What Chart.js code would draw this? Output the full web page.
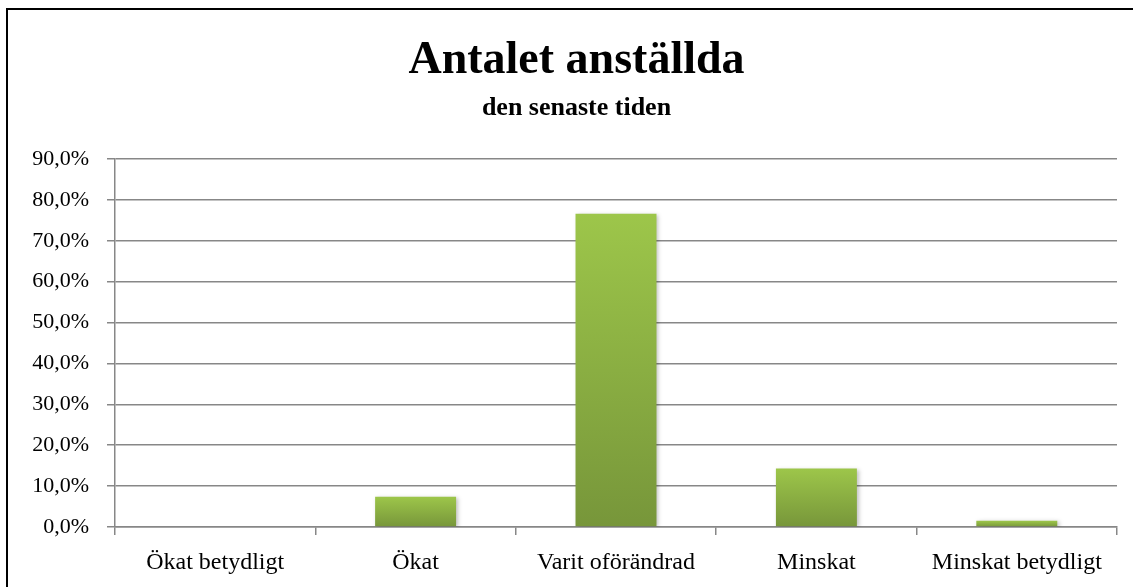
<!DOCTYPE html>
<html>
<head>
<meta charset="utf-8">
<script src="https://cdn.jsdelivr.net/npm/chart.js@4.4.1/dist/chart.umd.min.js"></script>
<style>
  html, body { margin: 0; padding: 0; background: #fff; overflow: hidden; }
  #wrap { position: relative; width: 1133px; height: 587px; }
  #frame { position: absolute; left: 6px; top: 8px; width: 1200px; height: 700px; border: 2px solid #000; pointer-events: none; }
</style>
</head>
<body>
<div id="wrap">
  <canvas id="chart" width="1133" height="587"></canvas>
  <div id="frame"></div>
</div>
<script>
const categories = ['Ökat betydligt', 'Ökat', 'Varit oförändrad', 'Minskat', 'Minskat betydligt'];
const shares = [0, 7.4, 76.6, 14.3, 1.5];
const yTicks = [0, 10, 20, 30, 40, 50, 60, 70, 80, 90];

const serif = "'Liberation Serif', 'Times New Roman', serif";

function pct(v) {
  return v.toFixed(1).replace('.', ',') + '%';
}

// gradient per bar, light on top and darker at the base
function barFill(context) {
  const chart = context.chart;
  const y = chart.scales.y;
  if (!chart.chartArea || !y) return '#8cb043';
  const v = context.raw || 0;
  const top = y.getPixelForValue(v);
  const bottom = y.getPixelForValue(0);
  if (bottom - top < 1) return '#8cb043';
  const g = chart.ctx.createLinearGradient(0, top, 0, bottom);
  g.addColorStop(0, '#9dc64a');
  g.addColorStop(1, '#77963a');
  return g;
}

const barShadow = {
  id: 'barShadow',
  beforeDatasetsDraw(chart) {
    const ctx = chart.ctx;
    ctx.save();
    ctx.shadowColor = 'rgba(0,0,0,0.25)';
    ctx.shadowBlur = 4;
    ctx.shadowOffsetX = 2;
    ctx.shadowOffsetY = 1;
  },
  afterDatasetsDraw(chart) {
    chart.ctx.restore();
  }
};

// the original centres its titles on the whole frame, a bit right of the canvas middle
const titleShift = {
  id: 'titleShift',
  afterLayout(chart) {
    chart.boxes.forEach(b => {
      if (b.options && typeof b.options.text === 'string') {
        b.left += 18;
        b.right += 18;
      }
    });
  }
};

new Chart(document.getElementById('chart'), {
  type: 'bar',
  data: {
    labels: categories,
    datasets: [{
      data: shares,
      backgroundColor: barFill,
      borderWidth: 0,
      barPercentage: 0.8,
      categoryPercentage: 0.505
    }]
  },
  options: {
    responsive: false,
    animation: false,
    layout: { padding: { left: 0, right: 16, top: 0, bottom: 0 } },
    plugins: {
      legend: { display: false },
      tooltip: { enabled: false },
      title: {
        display: true,
        text: 'Antalet anställda',
        color: '#000',
        font: { family: serif, size: 46, weight: 'bold', lineHeight: 1.2 },
        padding: { top: 34, bottom: 3 }
      },
      subtitle: {
        display: true,
        text: 'den senaste tiden',
        color: '#000',
        font: { family: serif, size: 26, weight: 'bold', lineHeight: 1.2 },
        padding: { top: 0, bottom: 35.6 }
      }
    },
    scales: {
      x: {
        grid: {
          display: true,
          drawOnChartArea: false,
          drawTicks: true,
          tickLength: 8,
          color: '#878787',
          lineWidth: 1.5
        },
        border: { display: true, color: '#878787', width: 1.5 },
        ticks: {
          color: '#000',
          font: { family: serif, size: 24 },
          padding: 13,
          maxRotation: 0,
          autoSkip: false
        },
        afterFit(scale) { scale.height = 60; }
      },
      y: {
        min: 0,
        max: 90,
        afterBuildTicks(scale) {
          scale.ticks = yTicks.map(v => ({ value: v }));
        },
        grid: {
          color: '#878787',
          lineWidth: 1.5,
          tickLength: 8
        },
        border: { display: true, color: '#878787', width: 1.5 },
        ticks: {
          color: '#000',
          font: { family: serif, size: 22 },
          padding: 18,
          callback: v => pct(v)
        },
        afterFit(scale) { scale.width = 115; }
      }
    }
  },
  plugins: [barShadow, titleShift]
});
</script>
</body>
</html>
